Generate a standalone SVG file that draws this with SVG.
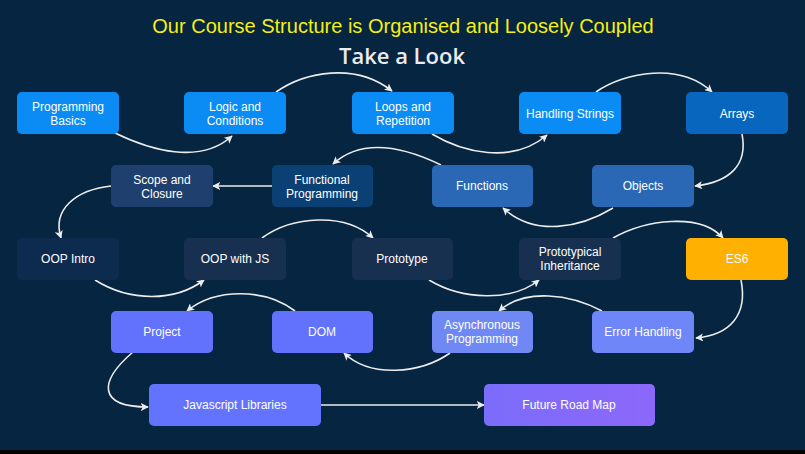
<svg xmlns="http://www.w3.org/2000/svg" width="805" height="454" viewBox="0 0 805 454">
<defs>
<marker id="ah" viewBox="0 0 10 10" refX="9" refY="5" markerWidth="8" markerHeight="8" markerUnits="userSpaceOnUse" orient="auto">
<path d="M0,0 L10,5 L0,10 L2.5,5 Z" fill="#ececec"/>
</marker>
<linearGradient id="fr" x1="0" y1="0" x2="1" y2="0">
<stop offset="0" stop-color="#7b6cfb"/>
<stop offset="1" stop-color="#8c68f9"/>
</linearGradient>
</defs>
<style>
.n rect{rx:5px;ry:5px}
.t{font-family:"Liberation Sans",Arial,sans-serif;font-size:12px;fill:#ffffff;text-anchor:middle}
.c path{fill:none;stroke:#ececec;stroke-width:1.6;marker-end:url(#ah)}
</style>
<rect width="805" height="454" fill="#052540"/>
<text x="403" y="33" font-family="Liberation Sans, Arial, sans-serif" font-size="20" fill="#f5ef12" text-anchor="middle">Our Course Structure is Organised and Loosely Coupled</text>
<text x="402" y="64" font-family="Open Sans, sans-serif" font-weight="600" font-size="22" fill="#e9ebf0" text-anchor="middle">Take a Look</text>

<g class="c">
<path d="M115,133 C150,150 200,165 232,136"/>
<path d="M276,92 C305,72 355,62 392,91"/>
<path d="M432,134 C462,152 512,165 547,135"/>
<path d="M596,92 C625,72 680,62 712,92"/>
<path d="M742,134 C748,165 730,182 695,186"/>
<path d="M613,208 C580,228 535,237 503,208"/>
<path d="M441,165 C410,150 365,135 333,164"/>
<path d="M272,186 L213,186"/>
<path d="M111,186 C75,190 52,210 61,238"/>
<path d="M95,280 C130,302 175,302 204,280"/>
<path d="M262,238 C292,216 345,212 373,238"/>
<path d="M429,280 C462,300 512,302 539,280"/>
<path d="M613,238 C645,220 700,212 723,238"/>
<path d="M741,280 C748,315 730,335 696,338"/>
<path d="M602,311 C570,294 525,288 499,311"/>
<path d="M450,353 C420,374 370,378 344,353"/>
<path d="M295,311 C265,288 215,288 187,311"/>
<path d="M133,352 C98,382 98,407 148,407"/>
<path d="M321,405 L484,405"/>
</g>

<g id="programming-basics" class="n"><rect x="17" y="92" width="102" height="42" fill="#0b8cf5"/><text class="t" x="68" y="111">Programming</text><text class="t" x="68" y="125">Basics</text></g>
<g id="logic-and-conditions" class="n"><rect x="184" y="92" width="102" height="42" fill="#0b8cf5"/><text class="t" x="235" y="111">Logic and</text><text class="t" x="235" y="125">Conditions</text></g>
<g id="loops-and-repetition" class="n"><rect x="352" y="92" width="102" height="42" fill="#0b8cf5"/><text class="t" x="403" y="111">Loops and</text><text class="t" x="403" y="125">Repetition</text></g>
<g id="handling-strings" class="n"><rect x="519" y="92" width="102" height="42" fill="#0b8cf5"/><text class="t" x="570" y="118">Handling Strings</text></g>
<g id="arrays" class="n"><rect x="686" y="92" width="102" height="42" fill="#0866bf"/><text class="t" x="737" y="118">Arrays</text></g>

<g id="scope-and-closure" class="n"><rect x="111" y="165" width="102" height="42" fill="#1f406e"/><text class="t" x="162" y="184">Scope and</text><text class="t" x="162" y="198">Closure</text></g>
<g id="functional-programming" class="n"><rect x="272" y="165" width="101" height="42" fill="#0b4075"/><text class="t" x="322" y="184">Functional</text><text class="t" x="322" y="198">Programming</text></g>
<g id="functions" class="n"><rect x="432" y="165" width="101" height="42" fill="#2a67b4"/><text class="t" x="482" y="190">Functions</text></g>
<g id="objects" class="n"><rect x="592" y="165" width="102" height="42" fill="#2a67b4"/><text class="t" x="643" y="190">Objects</text></g>

<g id="oop-intro" class="n"><rect x="17" y="238" width="102" height="42" fill="#0c2b4f"/><text class="t" x="68" y="263">OOP Intro</text></g>
<g id="oop-with-js" class="n"><rect x="184" y="238" width="102" height="42" fill="#17304f"/><text class="t" x="235" y="263">OOP with JS</text></g>
<g id="prototype" class="n"><rect x="352" y="238" width="101" height="42" fill="#17304f"/><text class="t" x="402" y="263">Prototype</text></g>
<g id="prototypical-inheritance" class="n"><rect x="519" y="238" width="102" height="42" fill="#17304f"/><text class="t" x="570" y="256">Prototypical</text><text class="t" x="570" y="270">Inheritance</text></g>
<g id="es6" class="n"><rect x="686" y="238" width="102" height="42" fill="#ffb000"/><text class="t" x="737" y="263">ES6</text></g>

<g id="project" class="n"><rect x="111" y="311" width="102" height="42" fill="#6272fd"/><text class="t" x="162" y="336">Project</text></g>
<g id="dom" class="n"><rect x="272" y="311" width="101" height="42" fill="#6272fd"/><text class="t" x="322" y="336">DOM</text></g>
<g id="asynchronous-programming" class="n"><rect x="432" y="311" width="101" height="42" fill="#7088f4"/><text class="t" x="482" y="329">Asynchronous</text><text class="t" x="482" y="343">Programming</text></g>
<g id="error-handling" class="n"><rect x="592" y="311" width="102" height="42" fill="#6f86f8"/><text class="t" x="643" y="336">Error Handling</text></g>

<g id="javascript-libraries" class="n"><rect x="149" y="384" width="172" height="42" fill="#6373fd"/><text class="t" x="235" y="409">Javascript Libraries</text></g>
<g id="future-road-map" class="n"><rect x="484" y="384" width="171" height="42" fill="url(#fr)"/><text class="t" x="569" y="409">Future Road Map</text></g>

<rect x="0" y="450" width="805" height="4" fill="#000000"/>
</svg>
